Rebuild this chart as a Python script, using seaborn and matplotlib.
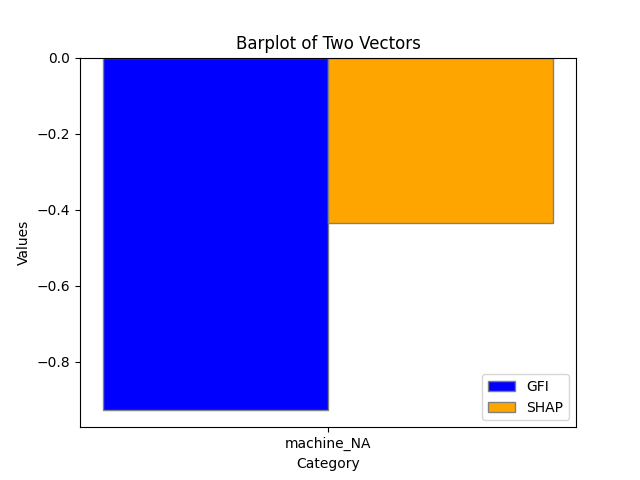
import matplotlib
matplotlib.use("Agg")
import matplotlib.pyplot as plt
import seaborn as sns
import pandas as pd

categories = ["machine_NA"]
series = ["GFI", "SHAP"]
gfi_values = [-0.926]
shap_values = [-0.434]
colors = ["blue", "orange"]

df = pd.DataFrame({
    "Category": categories * 2,
    "Method": ["GFI"] * len(categories) + ["SHAP"] * len(categories),
    "Values": gfi_values + shap_values,
})

fig, ax = plt.subplots(figsize=(6.4, 4.8), dpi=100)
sns.barplot(data=df, x="Category", y="Values", hue="Method", hue_order=series,
            palette=colors, saturation=1, width=0.7, edgecolor="grey",
            linewidth=1, ax=ax, errorbar=None)
ax.set_xlim(-0.385, 0.385)
ax.set_ylim(-0.972, 0)
ax.set_title("Barplot of Two Vectors")
ax.set_xlabel("Category")
ax.set_ylabel("Values")
ax.legend(loc="lower right")
fig.savefig("out.png")
